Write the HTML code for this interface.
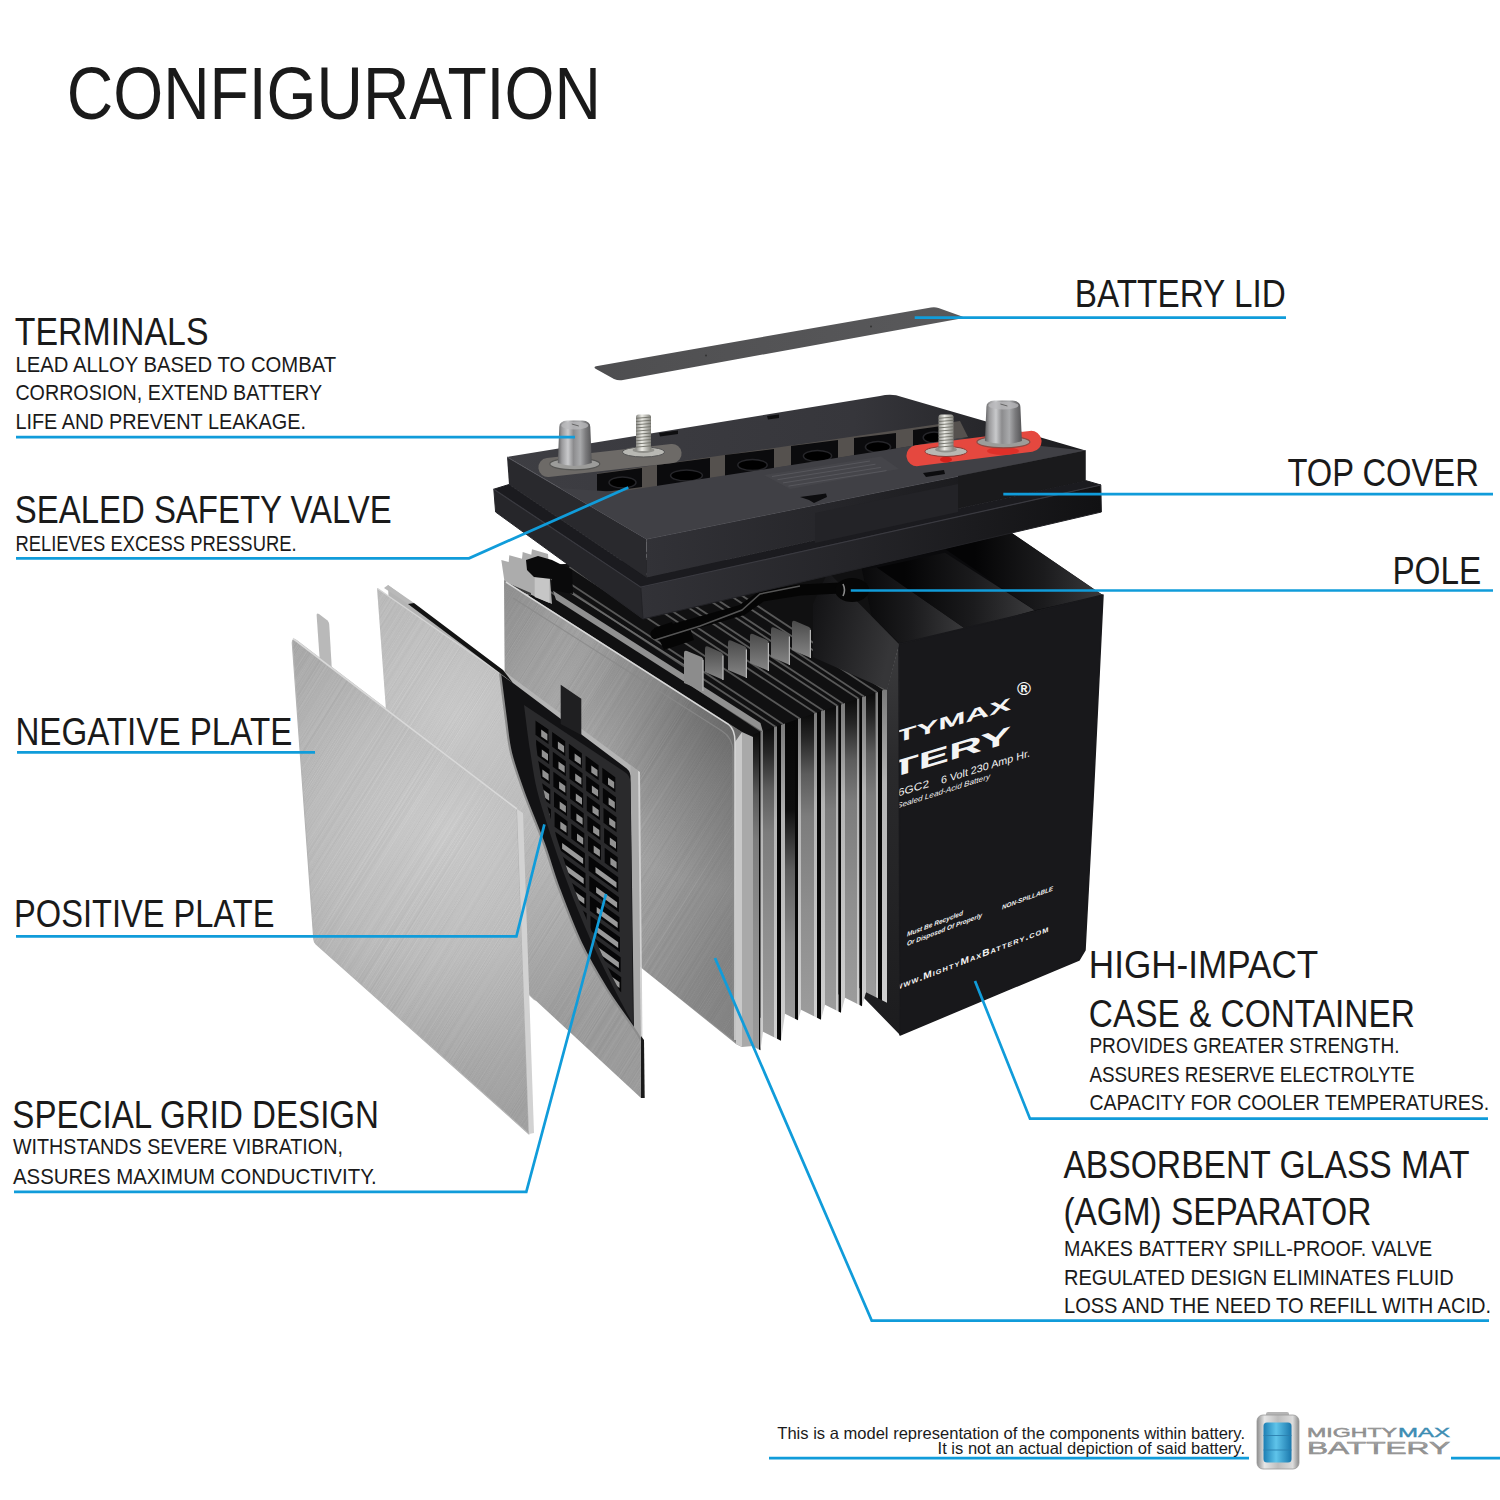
<!DOCTYPE html>
<html lang="en"><head><meta charset="utf-8"><title>Battery Configuration</title>
<style>
html,body{margin:0;padding:0;background:#fff;}
body{width:1500px;height:1500px;overflow:hidden;}
svg{display:block;font-family:'Liberation Sans', sans-serif;}
</style></head><body>
<svg width="1500" height="1500" viewBox="0 0 1500 1500">
<rect width="1500" height="1500" fill="#ffffff"/>
<defs>
<linearGradient id="gLid" x1="0" y1="0" x2="1" y2="0"><stop offset="0" stop-color="#4e4e50"/><stop offset="1" stop-color="#59595b"/></linearGradient>
<radialGradient id="gNeg" gradientUnits="userSpaceOnUse" cx="445" cy="830" r="290"><stop offset="0" stop-color="#cecece"/><stop offset="0.45" stop-color="#bebebe"/><stop offset="0.8" stop-color="#a9a9a9"/><stop offset="1" stop-color="#a0a0a0"/></radialGradient>
<radialGradient id="gPos" gradientUnits="userSpaceOnUse" cx="455" cy="715" r="330"><stop offset="0" stop-color="#cbcbcb"/><stop offset="0.4" stop-color="#bdbdbd"/><stop offset="1" stop-color="#9a9a9a"/></radialGradient>
<linearGradient id="gSep" x1="0" y1="0" x2="0.6" y2="1"><stop offset="0" stop-color="#8c8c8c"/><stop offset="0.22" stop-color="#a2a2a2"/><stop offset="0.45" stop-color="#adadad"/><stop offset="0.7" stop-color="#aaaaaa"/><stop offset="1" stop-color="#939393"/></linearGradient>
<linearGradient id="gSepR" gradientUnits="userSpaceOnUse" x1="590" y1="0" x2="742" y2="0"><stop offset="0" stop-color="#000" stop-opacity="0"/><stop offset="1" stop-color="#000" stop-opacity="0.13"/></linearGradient>
<radialGradient id="gSepD" gradientUnits="userSpaceOnUse" cx="745" cy="700" r="190"><stop offset="0" stop-color="#000" stop-opacity="0.34"/><stop offset="0.5" stop-color="#000" stop-opacity="0.16"/><stop offset="1" stop-color="#000" stop-opacity="0"/></radialGradient>
<linearGradient id="gFace" x1="0" y1="0" x2="0" y2="1"><stop offset="0" stop-color="#0a0a0a"/><stop offset="0.08" stop-color="#262626"/><stop offset="0.2" stop-color="#5c5c5c"/><stop offset="0.34" stop-color="#7c7c7c"/><stop offset="0.65" stop-color="#8e8e8e"/><stop offset="1" stop-color="#9c9c9c"/></linearGradient>
<linearGradient id="gFace2" x1="0" y1="0" x2="0" y2="1"><stop offset="0" stop-color="#060606"/><stop offset="0.3" stop-color="#0e0e0e"/><stop offset="0.5" stop-color="#5c5c5c"/><stop offset="0.75" stop-color="#888888"/><stop offset="1" stop-color="#9a9a9a"/></linearGradient>
<linearGradient id="gLine" x1="0" y1="0" x2="0" y2="1"><stop offset="0" stop-color="#7a7a7a"/><stop offset="0.3" stop-color="#b4b4b4"/><stop offset="1" stop-color="#d0d0d0"/></linearGradient>
<linearGradient id="gCaseL2" x1="0" y1="0" x2="1" y2="0.3"><stop offset="0" stop-color="#101012"/><stop offset="1" stop-color="#363638"/></linearGradient>
<linearGradient id="gCaseL" x1="0" y1="0" x2="0" y2="1"><stop offset="0" stop-color="#3c3c3e"/><stop offset="0.3" stop-color="#2a2a2c"/><stop offset="1" stop-color="#1c1c1e"/></linearGradient>
<linearGradient id="gCaseTop" x1="0" y1="0" x2="1" y2="0"><stop offset="0" stop-color="#050506"/><stop offset="0.5" stop-color="#19191b"/><stop offset="1" stop-color="#050506"/></linearGradient>
<linearGradient id="gCovR" x1="0" y1="0" x2="1" y2="0"><stop offset="0" stop-color="#323237"/><stop offset="0.45" stop-color="#252529"/><stop offset="1" stop-color="#111113"/></linearGradient>
<linearGradient id="gCovTop" x1="0" y1="0" x2="1" y2="0"><stop offset="0" stop-color="#3e3e43"/><stop offset="0.6" stop-color="#36363b"/><stop offset="1" stop-color="#1b1b1e"/></linearGradient>
<linearGradient id="gPost" x1="0" y1="0" x2="1" y2="0"><stop offset="0" stop-color="#5c5c5e"/><stop offset="0.12" stop-color="#9a9a9c"/><stop offset="0.3" stop-color="#c9cacc"/><stop offset="0.46" stop-color="#8c8c8e"/><stop offset="0.66" stop-color="#a9aaac"/><stop offset="0.82" stop-color="#7b7b7d"/><stop offset="1" stop-color="#545456"/></linearGradient>
<linearGradient id="gBolt" x1="0" y1="0" x2="1" y2="0"><stop offset="0" stop-color="#8a8a86"/><stop offset="0.4" stop-color="#ecece6"/><stop offset="1" stop-color="#85857f"/></linearGradient>
<linearGradient id="gTab" x1="0" y1="0" x2="0" y2="1"><stop offset="0" stop-color="#4a4a4a"/><stop offset="1" stop-color="#868686"/></linearGradient>
<filter id="fBrush" x="0" y="0" width="100%" height="100%" color-interpolation-filters="sRGB">
<feTurbulence type="fractalNoise" baseFrequency="0.004 0.55" numOctaves="2" seed="7" result="n"/>
<feColorMatrix in="n" type="matrix" values="0 0 0 0 0.45  0 0 0 0 0.45  0 0 0 0 0.45  1.6 0 0 0 -0.45"/>
</filter>
<filter id="fBrushL" x="0" y="0" width="100%" height="100%" color-interpolation-filters="sRGB">
<feTurbulence type="fractalNoise" baseFrequency="0.004 0.55" numOctaves="2" seed="3" result="n"/>
<feColorMatrix in="n" type="matrix" values="0 0 0 0 1  0 0 0 0 1  0 0 0 0 1  1.6 0 0 0 -0.45"/>
</filter>
</defs>
<g id="illustration">
<path d="M596,366.2 Q593,367.3 596,369 L614,379 Q618.5,381 623,380 L961,318.5 Q965,317.6 961.5,316.3 L938.5,308 Q935,306.8 931,307.5 Z" fill="url(#gLid)"/>
<circle cx="706" cy="355.5" r="1" fill="#333"/><circle cx="871" cy="326.5" r="1" fill="#333"/>
<polygon points="760.0,640.0 828.0,566.0 1011.0,532.5 1103.0,595.3 899.0,644.0 887.0,690.0" fill="#0a0a0c" />
<linearGradient id="gCs1" gradientUnits="userSpaceOnUse" x1="850" y1="0" x2="962" y2="0"><stop offset="0" stop-color="#040405"/><stop offset="0.55" stop-color="#1b1b1d"/><stop offset="1" stop-color="#38383a"/></linearGradient>
<polygon points="827.7,571.9 876.8,567.6 966.4,629.5 899.2,643.3" fill="url(#gCs1)" />
<linearGradient id="gCs2" gradientUnits="userSpaceOnUse" x1="905" y1="0" x2="1030" y2="0"><stop offset="0" stop-color="#040405"/><stop offset="0.55" stop-color="#1b1b1d"/><stop offset="1" stop-color="#38383a"/></linearGradient>
<polygon points="876.8,567.6 945.0,552.7 1034.7,610.3 966.4,629.5" fill="url(#gCs2)" />
<linearGradient id="gCs3" gradientUnits="userSpaceOnUse" x1="975" y1="0" x2="1100" y2="0"><stop offset="0" stop-color="#040405"/><stop offset="0.55" stop-color="#1b1b1d"/><stop offset="1" stop-color="#38383a"/></linearGradient>
<polygon points="945.0,549.0 1011.2,532.5 1103.0,595.3 1034.7,610.3" fill="url(#gCs3)" />
<polygon points="887.0,689.0 899.0,644.0 900.0,1035.0 864.0,998.0 864.0,700.0" fill="url(#gCaseL)" />
<polygon points="899.0,644.0 1103.0,595.0 1093.0,800.0 1085.0,950.0 1079.0,960.0 900.0,1035.0" fill="#18181b" stroke="#18181b" stroke-width="1.5" stroke-linejoin="round"/>
<polygon points="526.0,600.0 545.0,565.0 640.0,560.0 860.0,560.0 887.0,690.0 887.0,980.0 753.0,1020.0 745.0,735.0" fill="#101011" />
<line x1="761.8" y1="731.4" x2="531.8" y2="579.6" stroke="#585858" stroke-width="1.8"/>
<line x1="775.5" y1="726.7" x2="545.5" y2="574.9" stroke="#585858" stroke-width="1.8"/>
<line x1="783.0" y1="724.2" x2="553.0" y2="572.4" stroke="#585858" stroke-width="1.8"/>
<line x1="799.5" y1="718.6" x2="569.5" y2="566.8" stroke="#585858" stroke-width="1.8"/>
<line x1="815.5" y1="713.1" x2="585.5" y2="561.3" stroke="#585858" stroke-width="1.8"/>
<line x1="823.0" y1="710.6" x2="593.0" y2="558.8" stroke="#585858" stroke-width="1.8"/>
<line x1="837.2" y1="705.7" x2="607.2" y2="553.9" stroke="#585858" stroke-width="1.8"/>
<line x1="843.0" y1="703.8" x2="613.0" y2="552.0" stroke="#585858" stroke-width="1.8"/>
<line x1="858.2" y1="698.6" x2="628.2" y2="546.8" stroke="#585858" stroke-width="1.8"/>
<line x1="864.0" y1="696.6" x2="634.0" y2="544.8" stroke="#585858" stroke-width="1.8"/>
<line x1="876.8" y1="692.3" x2="646.8" y2="540.5" stroke="#585858" stroke-width="1.8"/>
<line x1="884.5" y1="689.7" x2="654.5" y2="537.9" stroke="#585858" stroke-width="1.8"/>
<polygon points="753.0,734.4 759.0,732.3 759.0,1049.5 753.0,1046.5" fill="url(#gFace)" />
<polygon points="759.0,732.3 760.5,731.8 760.5,1050.2 759.0,1049.5" fill="#070707" />
<polygon points="760.5,731.8 763.0,731.0 763.0,1031.8 760.5,1050.2" fill="url(#gLine)" />
<polygon points="763.0,731.0 774.0,727.2 774.0,1037.2 763.0,1031.8" fill="url(#gFace)" />
<polygon points="774.0,727.2 777.0,726.2 777.0,1038.8 774.0,1037.2" fill="url(#gLine)" />
<polygon points="777.0,726.2 781.0,724.9 781.0,1040.8 777.0,1038.8" fill="#070707" />
<polygon points="781.0,724.9 785.0,723.5 785.0,1013.8 781.0,1040.8" fill="url(#gLine)" />
<polygon points="785.0,723.5 795.0,720.1 795.0,1018.8 785.0,1013.8" fill="url(#gFace2)" />
<polygon points="795.0,720.1 798.0,719.1 798.0,1020.2 795.0,1018.8" fill="#070707" />
<polygon points="798.0,719.1 801.0,718.1 801.0,1009.8 798.0,1020.2" fill="url(#gLine)" />
<polygon points="801.0,718.1 814.0,713.6 814.0,1016.2 801.0,1009.8" fill="url(#gFace)" />
<polygon points="814.0,713.6 817.0,712.6 817.0,1017.8 814.0,1016.2" fill="url(#gLine)" />
<polygon points="817.0,712.6 821.0,711.3 821.0,1019.8 817.0,1017.8" fill="#070707" />
<polygon points="821.0,711.3 825.0,709.9 825.0,1004.8 821.0,1019.8" fill="url(#gLine)" />
<polygon points="825.0,709.9 836.0,706.2 836.0,1010.2 825.0,1004.8" fill="url(#gFace)" />
<polygon points="836.0,706.2 838.5,705.3 838.5,1011.5 836.0,1010.2" fill="url(#gLine)" />
<polygon points="838.5,705.3 841.0,704.5 841.0,1012.8 838.5,1011.5" fill="#070707" />
<polygon points="841.0,704.5 845.0,703.1 845.0,997.8 841.0,1012.8" fill="url(#gLine)" />
<polygon points="845.0,703.1 857.0,699.0 857.0,1003.8 845.0,997.8" fill="url(#gFace)" />
<polygon points="857.0,699.0 859.5,698.2 859.5,1005.0 857.0,1003.8" fill="url(#gLine)" />
<polygon points="859.5,698.2 862.0,697.3 862.0,1006.2 859.5,1005.0" fill="#070707" />
<polygon points="862.0,697.3 866.0,696.0 866.0,992.2 862.0,1006.2" fill="url(#gLine)" />
<polygon points="866.0,696.0 875.5,692.7 875.5,997.0 866.0,992.2" fill="url(#gFace)" />
<polygon points="875.5,692.7 878.0,691.9 878.0,998.2 875.5,997.0" fill="url(#gLine)" />
<polygon points="878.0,691.9 882.0,690.5 882.0,1000.2 878.0,998.2" fill="#070707" />
<polygon points="882.0,690.5 887.0,688.8 887.0,1002.8 882.0,1000.2" fill="url(#gLine)" />
<polygon points="553.0,590.8 760.5,722.9 763.0,732.0 556.0,599.7" fill="#909090" />
<line x1="553" y1="581.3" x2="700" y2="675.2" stroke="#6a6a6a" stroke-width="1.5"/>
<path d="M684,653 Q684,650 687,651 L701.5,657 Q703.5,658 703.5,660.5 L703.5,691 L684,683 Z" fill="#8c8c8c"/>
<line x1="702.9" y1="660" x2="702.9" y2="691" stroke="#b4b4b4" stroke-width="1.2"/>
<path d="M705,648.5 Q705,645.5 708,646.5 L721.5,652.5 Q723.5,653.5 723.5,656.0 L723.5,680 L705,672 Z" fill="url(#gTab)"/>
<line x1="722.9" y1="655.5" x2="722.9" y2="680" stroke="#b4b4b4" stroke-width="1.2"/>
<path d="M728,642.5 Q728,639.5 731,640.5 L745,646.5 Q747,647.5 747,650.0 L747,678 L728,670 Z" fill="url(#gTab)"/>
<line x1="746.4" y1="649.5" x2="746.4" y2="678" stroke="#b4b4b4" stroke-width="1.2"/>
<path d="M750,636 Q750,633 753,634 L767,640 Q769,641 769,643.5 L769,671 L750,663 Z" fill="url(#gTab)"/>
<line x1="768.4" y1="643" x2="768.4" y2="671" stroke="#b4b4b4" stroke-width="1.2"/>
<path d="M771,629.5 Q771,626.5 774,627.5 L788,633.5 Q790,634.5 790,637.0 L790,665 L771,657 Z" fill="url(#gTab)"/>
<line x1="789.4" y1="636.5" x2="789.4" y2="665" stroke="#b4b4b4" stroke-width="1.2"/>
<path d="M792,623 Q792,620 795,621 L809,627 Q811,628 811,630.5 L811,658 L792,650 Z" fill="url(#gTab)"/>
<line x1="810.4" y1="630" x2="810.4" y2="658" stroke="#b4b4b4" stroke-width="1.2"/>
<polygon points="813.0,604.0 828.0,572.0 899.0,644.0 887.0,690.0 813.0,657.0" fill="url(#gCaseL2)" />
<polyline points="656,634 700,622 742,610 762,596 800,590 840,588" fill="none" stroke="#050505" stroke-width="11" stroke-linejoin="round" stroke-linecap="round"/>
<ellipse cx="852" cy="590" rx="17" ry="12" fill="#060606"/>
<path d="M843,584 q3,6 0,12" fill="none" stroke="#8a8a8a" stroke-width="1.6"/>
<polygon points="654.0,628.0 672.0,622.0 676.0,632.0 690.0,628.0 694.0,640.0 664.0,650.0" fill="#050505" />
<polyline points="655,640 700,626 742,610 760,594 800,586" fill="none" stroke="#555" stroke-width="1.5"/>
<polygon points="501.3,560.0 508.7,562.0 509.3,555.3 522.0,558.7 522.7,552.0 531.3,554.7 532.0,549.3 548.0,554.0 552.0,604.0 504.7,583.0" fill="#acacac" />
<polygon points="534.7,577.0 549.5,579.0 549.5,603.0 534.7,597.0" fill="#c6c6c6" />
<polygon points="526.0,560.0 538.0,556.0 552.0,560.0 572.0,570.0 573.0,594.0 552.0,590.0 552.0,579.0 534.0,577.0 527.0,570.0" fill="#0a0a0b" />
<polygon points="510.0,584.0 531.0,593.0 531.0,596.0 510.0,587.0" fill="#3a3a3a" />
<polygon points="504.0,580.0 742.0,732.0 742.0,1047.0 736.0,1044.0 644.0,970.0 560.0,900.0 506.0,860.0" fill="url(#gSep)" />
<clipPath id="cpB1"><polygon points="504.0,580.0 742.0,732.0 742.0,1047.0 644.0,970.0 506.0,860.0"/></clipPath>
<g clip-path="url(#cpB1)" opacity="0.16"><g transform="skewY(-57.99)"><rect x="502" y="1381" width="242" height="858" filter="url(#fBrush)"/></g></g>
<clipPath id="cpB2"><polygon points="504.0,580.0 742.0,732.0 742.0,1047.0 644.0,970.0 506.0,860.0"/></clipPath>
<g clip-path="url(#cpB2)" opacity="0.12"><g transform="skewY(-57.99)"><rect x="502" y="1381" width="242" height="858" filter="url(#fBrushL)"/></g></g>
<polygon points="504.0,580.0 742.0,732.0 742.0,1047.0 644.0,970.0 506.0,860.0" fill="url(#gSepD)" />
<polygon points="504.0,580.0 742.0,732.0 742.0,1047.0 644.0,970.0 506.0,860.0" fill="url(#gSepR)" />
<path d="M513,598 L722,731 Q733,738 733,752 L733,1036" fill="none" stroke="#8a8a8a" stroke-width="1.2" opacity="0.8"/>
<polygon points="735.0,742.0 742.0,732.0 742.0,1047.0 736.0,1044.0" fill="#c9c9c9" />
<path d="M506,582 L728,724 Q735,729 735,742 L735,1040" fill="none" stroke="#d8d8d8" stroke-width="1.5"/>
<polygon points="742.0,732.0 753.0,737.0 753.0,1046.0 742.0,1047.0" fill="#a9a9a9" />
<polygon points="509.0,484.5 646.5,577.5 1085.5,480.5 1100.8,485.0 640.8,587.2 493.8,489.2" fill="#1b1b1f" stroke="#1b1b1f" stroke-width="1" stroke-linejoin="round"/>
<polygon points="493.8,489.2 640.8,587.2 643.0,619.0 495.6,512.0" fill="#26262a" stroke="#26262a" stroke-width="1" stroke-linejoin="round"/>
<polygon points="640.8,587.2 1100.8,485.0 1101.4,512.0 643.0,619.0" fill="url(#gCovR)" stroke="#222226" stroke-width="1" stroke-linejoin="round"/>
<polyline points="493.8,489.2 640.8,587.2 1100.8,485" fill="none" stroke="#3a3a40" stroke-width="1.2"/>
<polygon points="507.0,457.0 646.5,539.0 646.5,577.5 509.0,484.5" fill="#29292d" />
<polygon points="646.5,539.0 1085.5,450.5 1085.5,480.5 646.5,577.5" fill="url(#gCovR)" />
<path d="M507,457 L880,396 Q892,393 902,397 L1085.5,450.5 L646.5,539 Z" fill="url(#gCovTop)"/>
<polyline points="507,457 646.5,539 1085.5,450.5" fill="none" stroke="#55555b" stroke-width="1"/>
<polygon points="597.0,473.5 960.0,421.0 968.0,437.0 597.0,496.5" fill="#55514e" />
<polygon points="597.0,474.0 642.0,468.0 642.0,487.0 597.0,493.0" fill="#0b0b0d" />
<polygon points="657.0,465.0 710.0,458.0 710.0,482.0 657.0,489.0" fill="#0b0b0d" />
<polygon points="725.0,455.0 774.0,449.0 774.0,471.0 725.0,477.0" fill="#0b0b0d" />
<polygon points="791.0,446.0 838.0,440.0 838.0,462.0 791.0,468.0" fill="#0b0b0d" />
<polygon points="854.0,438.0 896.0,433.0 896.0,452.0 854.0,457.0" fill="#0b0b0d" />
<polygon points="913.0,430.0 949.0,425.0 949.0,441.0 913.0,446.0" fill="#0b0b0d" />
<ellipse cx="622.5" cy="482.5" rx="13.5" ry="5.5" fill="#000" stroke="#26262a" stroke-width="1.5"/>
<ellipse cx="686.5" cy="475.5" rx="15.9" ry="5.5" fill="#000" stroke="#26262a" stroke-width="1.5"/>
<ellipse cx="752.5" cy="465.0" rx="14.7" ry="5.5" fill="#000" stroke="#26262a" stroke-width="1.5"/>
<ellipse cx="817.5" cy="456.0" rx="14.1" ry="5.5" fill="#000" stroke="#26262a" stroke-width="1.5"/>
<ellipse cx="878.0" cy="447.0" rx="12.6" ry="5.5" fill="#000" stroke="#26262a" stroke-width="1.5"/>
<ellipse cx="934.0" cy="437.5" rx="10.8" ry="5.5" fill="#000" stroke="#26262a" stroke-width="1.5"/>
<polygon points="617.0,492.0 760.0,470.0 905.0,447.0 960.0,438.0 1085.5,450.5 646.5,539.0 560.0,488.0" fill="#404045" />
<polygon points="764.0,475.0 881.0,456.5 899.0,469.0 790.0,489.0" fill="#45454a" />
<line x1="772.0" y1="476.5" x2="870.0" y2="461.0" stroke="#6a6a70" stroke-width="0.7" opacity="0.7"/>
<line x1="777.5" y1="479.7" x2="875.5" y2="464.2" stroke="#6a6a70" stroke-width="0.7" opacity="0.7"/>
<line x1="783.0" y1="482.9" x2="881.0" y2="467.4" stroke="#6a6a70" stroke-width="0.7" opacity="0.7"/>
<line x1="788.5" y1="486.1" x2="886.5" y2="470.6" stroke="#6a6a70" stroke-width="0.7" opacity="0.7"/>
<polygon points="800.0,497.0 826.0,493.5 827.0,497.0 814.0,503.0 809.0,500.0" fill="#0c0c0e" />
<polygon points="923.0,473.0 944.0,470.0 945.0,474.0 926.0,477.0" fill="#0c0c0e" />
<polygon points="659.0,433.0 678.0,430.5 678.0,434.0 660.0,436.5" fill="#0e0e10" />
<polygon points="767.0,416.0 779.0,414.5 779.0,418.0 768.0,419.5" fill="#0e0e10" />
<polygon points="815.0,513.0 958.0,484.0 958.0,512.0 815.0,543.0" fill="#232327" />
<polygon points="958.0,476.0 1085.5,450.5 1085.5,480.5 958.0,508.0" fill="#1a1a1c" />
<g transform="rotate(-6.4 610 460.5)"><rect x="538" y="451" width="144" height="19" rx="9.5" fill="#6d6a67"/></g>
<ellipse cx="574.8" cy="464" rx="25.0" ry="5.8" fill="#9c9c9a" stroke="#555553" stroke-width="1.2"/>
<path d="M557.8,463 L559.3,427 Q559.3,421 567.3,420.5 L582.3,420.5 Q590.3,421 590.3,427 L591.8,463 Q574.8,469 557.8,463 Z" fill="url(#gPost)"/>
<ellipse cx="574.8" cy="425.5" rx="13.5" ry="4" fill="#b9babc" opacity="0.75"/>
<path d="M571.8,424 l7,2" stroke="#666" stroke-width="1" fill="none"/>
<ellipse cx="643.5" cy="452" rx="21" ry="5" fill="#b8b8b3" stroke="#555" stroke-width="1"/>
<ellipse cx="643.5" cy="450" rx="11" ry="3" fill="#8f8f8a"/>
<rect x="636.0" y="414.5" width="15" height="36.5" rx="2.5" fill="url(#gBolt)"/>
<line x1="636.0" y1="418.3" x2="651.0" y2="417.1" stroke="#6e6e66" stroke-width="0.9"/>
<line x1="636.0" y1="421.5" x2="651.0" y2="420.3" stroke="#6e6e66" stroke-width="0.9"/>
<line x1="636.0" y1="424.7" x2="651.0" y2="423.5" stroke="#6e6e66" stroke-width="0.9"/>
<line x1="636.0" y1="427.9" x2="651.0" y2="426.7" stroke="#6e6e66" stroke-width="0.9"/>
<line x1="636.0" y1="431.1" x2="651.0" y2="429.9" stroke="#6e6e66" stroke-width="0.9"/>
<line x1="636.0" y1="434.3" x2="651.0" y2="433.1" stroke="#6e6e66" stroke-width="0.9"/>
<line x1="636.0" y1="437.5" x2="651.0" y2="436.3" stroke="#6e6e66" stroke-width="0.9"/>
<line x1="636.0" y1="440.7" x2="651.0" y2="439.5" stroke="#6e6e66" stroke-width="0.9"/>
<line x1="636.0" y1="443.9" x2="651.0" y2="442.7" stroke="#6e6e66" stroke-width="0.9"/>
<line x1="636.0" y1="447.1" x2="651.0" y2="445.9" stroke="#6e6e66" stroke-width="0.9"/>
<g transform="rotate(-7.2 974 448.5)"><rect x="906" y="438" width="136" height="21" rx="10.5" fill="#e5483f"/></g>
<ellipse cx="946" cy="459.5" rx="6" ry="3" fill="#d4201b"/><ellipse cx="1003" cy="451" rx="16" ry="4" fill="#dc2a24" opacity="0.8"/>
<ellipse cx="946" cy="451.5" rx="21" ry="5" fill="#b8b8b3" stroke="#8a3a34" stroke-width="1"/>
<ellipse cx="946" cy="449.5" rx="11" ry="3" fill="#8f8f8a"/>
<rect x="938.5" y="414.5" width="15" height="36.0" rx="2.5" fill="url(#gBolt)"/>
<line x1="938.5" y1="418.3" x2="953.5" y2="417.1" stroke="#6e6e66" stroke-width="0.9"/>
<line x1="938.5" y1="421.5" x2="953.5" y2="420.3" stroke="#6e6e66" stroke-width="0.9"/>
<line x1="938.5" y1="424.7" x2="953.5" y2="423.5" stroke="#6e6e66" stroke-width="0.9"/>
<line x1="938.5" y1="427.9" x2="953.5" y2="426.7" stroke="#6e6e66" stroke-width="0.9"/>
<line x1="938.5" y1="431.1" x2="953.5" y2="429.9" stroke="#6e6e66" stroke-width="0.9"/>
<line x1="938.5" y1="434.3" x2="953.5" y2="433.1" stroke="#6e6e66" stroke-width="0.9"/>
<line x1="938.5" y1="437.5" x2="953.5" y2="436.3" stroke="#6e6e66" stroke-width="0.9"/>
<line x1="938.5" y1="440.7" x2="953.5" y2="439.5" stroke="#6e6e66" stroke-width="0.9"/>
<line x1="938.5" y1="443.9" x2="953.5" y2="442.7" stroke="#6e6e66" stroke-width="0.9"/>
<line x1="938.5" y1="447.1" x2="953.5" y2="445.9" stroke="#6e6e66" stroke-width="0.9"/>
<ellipse cx="1003.4" cy="442" rx="26.5" ry="5.8" fill="#9c9c9a" stroke="#8a4a44" stroke-width="1.2"/>
<path d="M984.9,441 L986.4,407 Q986.4,401 994.4,400.5 L1012.4,400.5 Q1020.4,401 1020.4,407 L1021.9,441 Q1003.4,447 984.9,441 Z" fill="url(#gPost)"/>
<ellipse cx="1003.4" cy="405.5" rx="15.0" ry="4" fill="#b9babc" opacity="0.75"/>
<path d="M1000.4,404 l7,2" stroke="#666" stroke-width="1" fill="none"/>
<polygon points="388.0,585.0 638.0,770.7 641.0,1040.0 534.0,1000.0 400.0,872.0" fill="#b4b4b4" />
<polygon points="630.5,765.0 638.0,770.7 641.0,1040.0 633.5,1030.0" fill="#a9a9a9" />
<polygon points="638.0,770.7 640.0,772.0 642.5,1040.0 641.0,1040.0" fill="#d2d2d2" />
<path d="M500,673 C501.0,680.8 504.2,706.7 506.0,720.0 C507.8,733.3 508.0,740.8 511.0,753.0 C514.0,765.2 518.5,777.8 524.0,793.0 C529.5,808.2 538.2,828.2 544.0,844.0 C549.8,859.8 552.4,871.1 558.6,887.6 C564.8,904.1 573.0,926.1 581.0,943.0 C589.0,959.9 597.8,974.6 606.7,989.0 C615.6,1003.4 628.9,1021.0 634.6,1029.5 C640.3,1038.0 639.9,1038.2 641.0,1040.0 L634,1030 L630.5,776 Q630,770 624,766.5 L513,683 L503,676 Z" fill="#121214"/>
<path d="M524,705 L624,771.5 Q630.5,775.5 630.5,783 L633,1024 C630.8,1020.0 625.5,1010.7 620.0,1000.0 C614.5,989.3 606.7,974.2 600.0,960.0 C593.3,945.8 586.3,930.3 580.0,915.0 C573.7,899.7 567.2,882.2 562.0,868.0 C556.8,853.8 553.2,843.0 549.0,830.0 C544.8,817.0 540.2,803.3 537.0,790.0 C533.8,776.7 532.2,764.2 530.0,750.0 C527.8,735.8 525.0,712.5 524.0,705.0 Z" fill="#2a2a2c"/>
<clipPath id="cpGrid"><path d="M533,719 L617,775 Q622.5,778.5 622.5,786 L624.5,1000 C622.1,995.3 615.4,983.3 610.0,972.0 C604.6,960.7 598.0,946.0 592.0,932.0 C586.0,918.0 579.3,902.0 574.0,888.0 C568.7,874.0 564.5,861.8 560.0,848.0 C555.5,834.2 550.5,818.8 547.0,805.0 C543.5,791.2 541.3,779.3 539.0,765.0 C536.7,750.7 534.0,726.7 533.0,719.0 Z"/></clipPath>
<g clip-path="url(#cpGrid)">
<polygon points="535.5,719.8 548.5,729.2 548.5,744.2 535.5,734.8" fill="#060607" />
<polygon points="541.2,729.6 547.4,734.0 547.4,740.8 541.2,736.4" fill="#929292" />
<polygon points="552.2,731.8 565.2,741.2 565.2,756.2 552.2,746.8" fill="#060607" />
<polygon points="557.9,741.6 564.1,746.0 564.1,752.8 557.9,748.4" fill="#929292" />
<polygon points="568.9,743.8 581.9,753.2 581.9,768.2 568.9,758.8" fill="#060607" />
<polygon points="574.6,753.6 580.8,758.0 580.8,764.8 574.6,760.4" fill="#929292" />
<polygon points="585.6,755.8 598.6,765.2 598.6,780.2 585.6,770.8" fill="#060607" />
<polygon points="591.3,765.6 597.5,770.0 597.5,776.8 591.3,772.4" fill="#929292" />
<polygon points="602.3,767.8 615.3,777.2 615.3,792.2 602.3,782.8" fill="#060607" />
<polygon points="608.0,777.6 614.2,782.0 614.2,788.8 608.0,784.4" fill="#929292" />
<polygon points="536.1,739.8 549.1,749.2 549.1,764.2 536.1,754.8" fill="#060607" />
<polygon points="541.8,749.6 548.0,754.0 548.0,760.8 541.8,756.4" fill="#929292" />
<polygon points="552.8,751.8 565.8,761.2 565.8,776.2 552.8,766.8" fill="#060607" />
<polygon points="558.5,761.6 564.7,766.0 564.7,772.8 558.5,768.4" fill="#929292" />
<polygon points="569.5,763.8 582.5,773.2 582.5,788.2 569.5,778.8" fill="#060607" />
<polygon points="575.2,773.6 581.4,778.0 581.4,784.8 575.2,780.4" fill="#929292" />
<polygon points="586.2,775.8 599.2,785.2 599.2,800.2 586.2,790.8" fill="#060607" />
<polygon points="591.9,785.6 598.1,790.0 598.1,796.8 591.9,792.4" fill="#929292" />
<polygon points="602.9,787.8 615.9,797.2 615.9,812.2 602.9,802.8" fill="#060607" />
<polygon points="608.6,797.6 614.8,802.0 614.8,808.8 608.6,804.4" fill="#929292" />
<polygon points="536.7,759.8 549.7,769.2 549.7,784.2 536.7,774.8" fill="#060607" />
<polygon points="542.4,769.6 548.6,774.0 548.6,780.8 542.4,776.4" fill="#929292" />
<polygon points="553.4,771.8 566.4,781.2 566.4,796.2 553.4,786.8" fill="#060607" />
<polygon points="559.1,781.6 565.3,786.0 565.3,792.8 559.1,788.4" fill="#929292" />
<polygon points="570.1,783.8 583.1,793.2 583.1,808.2 570.1,798.8" fill="#060607" />
<polygon points="575.8,793.6 582.0,798.0 582.0,804.8 575.8,800.4" fill="#929292" />
<polygon points="586.8,795.8 599.8,805.2 599.8,820.2 586.8,810.8" fill="#060607" />
<polygon points="592.5,805.6 598.7,810.0 598.7,816.8 592.5,812.4" fill="#929292" />
<polygon points="603.5,807.8 616.5,817.2 616.5,832.2 603.5,822.8" fill="#060607" />
<polygon points="609.2,817.6 615.4,822.0 615.4,828.8 609.2,824.4" fill="#929292" />
<polygon points="537.3,779.8 550.3,789.2 550.3,804.2 537.3,794.8" fill="#060607" />
<polygon points="543.0,789.6 549.2,794.0 549.2,800.8 543.0,796.4" fill="#929292" />
<polygon points="554.0,791.8 567.0,801.2 567.0,816.2 554.0,806.8" fill="#060607" />
<polygon points="559.7,801.6 565.9,806.0 565.9,812.8 559.7,808.4" fill="#929292" />
<polygon points="570.7,803.8 583.7,813.2 583.7,828.2 570.7,818.8" fill="#060607" />
<polygon points="576.4,813.6 582.6,818.0 582.6,824.8 576.4,820.4" fill="#929292" />
<polygon points="587.4,815.8 600.4,825.2 600.4,840.2 587.4,830.8" fill="#060607" />
<polygon points="593.1,825.6 599.3,830.0 599.3,836.8 593.1,832.4" fill="#929292" />
<polygon points="604.1,827.8 617.1,837.2 617.1,852.2 604.1,842.8" fill="#060607" />
<polygon points="609.8,837.6 616.0,842.0 616.0,848.8 609.8,844.4" fill="#929292" />
<polygon points="537.9,799.8 550.9,809.2 550.9,824.2 537.9,814.8" fill="#060607" />
<polygon points="543.6,809.6 549.8,814.0 549.8,820.8 543.6,816.4" fill="#929292" />
<polygon points="554.6,811.8 567.6,821.2 567.6,836.2 554.6,826.8" fill="#060607" />
<polygon points="560.3,821.6 566.5,826.0 566.5,832.8 560.3,828.4" fill="#929292" />
<polygon points="571.3,823.8 584.3,833.2 584.3,848.2 571.3,838.8" fill="#060607" />
<polygon points="577.0,833.6 583.2,838.0 583.2,844.8 577.0,840.4" fill="#929292" />
<polygon points="588.0,835.8 601.0,845.2 601.0,860.2 588.0,850.8" fill="#060607" />
<polygon points="593.7,845.6 599.9,850.0 599.9,856.8 593.7,852.4" fill="#929292" />
<polygon points="604.7,847.8 617.7,857.2 617.7,872.2 604.7,862.8" fill="#060607" />
<polygon points="610.4,857.6 616.6,862.0 616.6,868.8 610.4,864.4" fill="#929292" />
<polygon points="538.5,819.8 551.5,829.2 551.5,844.2 538.5,834.8" fill="#060607" />
<polygon points="555.3,831.8 584.9,853.2 584.9,868.2 555.3,846.8" fill="#060607" />
<polygon points="562.1,843.0 583.1,858.2 583.1,864.0 562.1,848.8" fill="#9a9a9a" />
<polygon points="588.7,855.8 618.2,877.2 618.2,892.2 588.7,870.8" fill="#060607" />
<polygon points="595.5,867.0 616.5,882.2 616.5,888.0 595.5,872.8" fill="#9a9a9a" />
<polygon points="539.1,839.8 552.1,849.2 552.1,864.2 539.1,854.8" fill="#060607" />
<polygon points="555.9,851.8 585.5,873.2 585.5,888.2 555.9,866.8" fill="#060607" />
<polygon points="562.7,863.0 583.7,878.2 583.7,884.0 562.7,868.8" fill="#9a9a9a" />
<polygon points="589.3,875.8 618.9,897.2 618.9,912.2 589.3,890.8" fill="#060607" />
<polygon points="596.1,887.0 617.1,902.2 617.1,908.0 596.1,892.8" fill="#9a9a9a" />
<polygon points="539.7,859.8 552.7,869.2 552.7,884.2 539.7,874.8" fill="#060607" />
<polygon points="556.5,871.8 586.1,893.2 586.1,908.2 556.5,886.8" fill="#060607" />
<polygon points="563.3,883.0 584.3,898.2 584.3,904.0 563.3,888.8" fill="#9a9a9a" />
<polygon points="589.9,895.8 619.5,917.2 619.5,932.2 589.9,910.8" fill="#060607" />
<polygon points="596.7,907.0 617.7,922.2 617.7,928.0 596.7,912.8" fill="#9a9a9a" />
<polygon points="540.3,879.8 553.3,889.2 553.3,904.2 540.3,894.8" fill="#060607" />
<polygon points="557.1,891.8 586.6,913.2 586.6,928.2 557.1,906.8" fill="#060607" />
<polygon points="563.9,903.0 584.9,918.2 584.9,924.0 563.9,908.8" fill="#9a9a9a" />
<polygon points="590.5,915.8 620.0,937.2 620.0,952.2 590.5,930.8" fill="#060607" />
<polygon points="597.2,927.0 618.2,942.2 618.2,948.0 597.2,932.8" fill="#9a9a9a" />
<polygon points="540.9,899.8 553.9,909.2 553.9,924.2 540.9,914.8" fill="#060607" />
<polygon points="557.7,911.8 587.2,933.2 587.2,948.2 557.7,926.8" fill="#060607" />
<polygon points="564.5,923.0 585.5,938.2 585.5,944.0 564.5,928.8" fill="#9a9a9a" />
<polygon points="591.1,935.8 620.6,957.2 620.6,972.2 591.1,950.8" fill="#060607" />
<polygon points="597.9,947.0 618.9,962.2 618.9,968.0 597.9,952.8" fill="#9a9a9a" />
<polygon points="541.5,919.8 554.5,929.2 554.5,944.2 541.5,934.8" fill="#060607" />
<polygon points="558.3,931.8 587.9,953.2 587.9,968.2 558.3,946.8" fill="#060607" />
<polygon points="565.1,943.0 586.1,958.2 586.1,964.0 565.1,948.8" fill="#9a9a9a" />
<polygon points="591.7,955.8 621.2,977.2 621.2,992.2 591.7,970.8" fill="#060607" />
<polygon points="598.5,967.0 619.5,982.2 619.5,988.0 598.5,972.8" fill="#9a9a9a" />
<polygon points="542.1,939.8 555.1,949.2 555.1,964.2 542.1,954.8" fill="#060607" />
<polygon points="558.9,951.8 588.5,973.2 588.5,988.2 558.9,966.8" fill="#060607" />
<polygon points="565.7,963.0 586.7,978.2 586.7,984.0 565.7,968.8" fill="#9a9a9a" />
<polygon points="592.3,975.8 621.9,997.2 621.9,1012.2 592.3,990.8" fill="#060607" />
<polygon points="599.1,987.0 620.1,1002.2 620.1,1008.0 599.1,992.8" fill="#9a9a9a" />
<polygon points="542.7,959.8 555.7,969.2 555.7,984.2 542.7,974.8" fill="#060607" />
<polygon points="559.5,971.8 589.1,993.2 589.1,1008.2 559.5,986.8" fill="#060607" />
<polygon points="566.3,983.0 587.3,998.2 587.3,1004.0 566.3,988.8" fill="#9a9a9a" />
<polygon points="592.9,995.8 622.5,1017.2 622.5,1032.2 592.9,1010.8" fill="#060607" />
<polygon points="599.7,1007.0 620.7,1022.2 620.7,1028.0 599.7,1012.8" fill="#9a9a9a" />
<polygon points="543.3,979.8 556.3,989.2 556.3,1004.2 543.3,994.8" fill="#060607" />
<polygon points="560.1,991.8 589.6,1013.2 589.6,1028.2 560.1,1006.8" fill="#060607" />
<polygon points="566.9,1003.0 587.9,1018.2 587.9,1024.0 566.9,1008.8" fill="#9a9a9a" />
<polygon points="593.5,1015.8 623.0,1037.2 623.0,1052.2 593.5,1030.8" fill="#060607" />
<polygon points="600.2,1027.0 621.2,1042.2 621.2,1048.0 600.2,1032.8" fill="#9a9a9a" />
<polygon points="543.9,999.8 556.9,1009.2 556.9,1024.2 543.9,1014.8" fill="#060607" />
<polygon points="560.7,1011.8 590.2,1033.2 590.2,1048.2 560.7,1026.8" fill="#060607" />
<polygon points="567.5,1023.0 588.5,1038.2 588.5,1044.0 567.5,1028.8" fill="#9a9a9a" />
<polygon points="594.1,1035.8 623.6,1057.2 623.6,1072.2 594.1,1050.8" fill="#060607" />
<polygon points="600.9,1047.0 621.9,1062.2 621.9,1068.0 600.9,1052.8" fill="#9a9a9a" />
<polygon points="544.5,1019.8 557.5,1029.2 557.5,1044.2 544.5,1034.8" fill="#060607" />
<polygon points="561.3,1031.8 590.9,1053.2 590.9,1068.2 561.3,1046.8" fill="#060607" />
<polygon points="568.1,1043.0 589.1,1058.2 589.1,1064.0 568.1,1048.8" fill="#9a9a9a" />
<polygon points="594.7,1055.8 624.2,1077.2 624.2,1092.2 594.7,1070.8" fill="#060607" />
<polygon points="601.5,1067.0 622.5,1082.2 622.5,1088.0 601.5,1072.8" fill="#9a9a9a" />
</g>
<polygon points="560.7,684.7 581.3,698.7 581.3,735.0 560.7,724.0" fill="#1f1f21" />
<path d="M377,588 L500,673 C501.0,680.8 504.2,706.7 506.0,720.0 C507.8,733.3 508.0,740.8 511.0,753.0 C514.0,765.2 518.5,777.8 524.0,793.0 C529.5,808.2 538.2,828.2 544.0,844.0 C549.8,859.8 552.4,871.1 558.6,887.6 C564.8,904.1 573.0,926.1 581.0,943.0 C589.0,959.9 597.8,974.6 606.7,989.0 C615.6,1003.4 628.9,1021.0 634.6,1029.5 C640.3,1038.0 639.9,1038.2 641.0,1040.0 L641,1098 L398,873 Z" fill="url(#gPos)"/>
<clipPath id="cpB3"><path d="M377,588 L500,673 C501.0,680.8 504.2,706.7 506.0,720.0 C507.8,733.3 508.0,740.8 511.0,753.0 C514.0,765.2 518.5,777.8 524.0,793.0 C529.5,808.2 538.2,828.2 544.0,844.0 C549.8,859.8 552.4,871.1 558.6,887.6 C564.8,904.1 573.0,926.1 581.0,943.0 C589.0,959.9 597.8,974.6 606.7,989.0 C615.6,1003.4 628.9,1021.0 634.6,1029.5 C640.3,1038.0 639.9,1038.2 641.0,1040.0 L641,1098 L398,873 Z"/></clipPath>
<g clip-path="url(#cpB3)" opacity="0.15"><g transform="skewY(-57.99)"><rect x="375" y="1186" width="268" height="943" filter="url(#fBrush)"/></g></g>
<clipPath id="cpB4"><path d="M377,588 L500,673 C501.0,680.8 504.2,706.7 506.0,720.0 C507.8,733.3 508.0,740.8 511.0,753.0 C514.0,765.2 518.5,777.8 524.0,793.0 C529.5,808.2 538.2,828.2 544.0,844.0 C549.8,859.8 552.4,871.1 558.6,887.6 C564.8,904.1 573.0,926.1 581.0,943.0 C589.0,959.9 597.8,974.6 606.7,989.0 C615.6,1003.4 628.9,1021.0 634.6,1029.5 C640.3,1038.0 639.9,1038.2 641.0,1040.0 L641,1098 L398,873 Z"/></clipPath>
<g clip-path="url(#cpB4)" opacity="0.12"><g transform="skewY(-57.99)"><rect x="375" y="1186" width="268" height="943" filter="url(#fBrushL)"/></g></g>
<path d="M500,673 C501.0,680.8 504.2,706.7 506.0,720.0 C507.8,733.3 508.0,740.8 511.0,753.0 C514.0,765.2 518.5,777.8 524.0,793.0 C529.5,808.2 538.2,828.2 544.0,844.0 C549.8,859.8 552.4,871.1 558.6,887.6 C564.8,904.1 573.0,926.1 581.0,943.0 C589.0,959.9 597.8,974.6 606.7,989.0 C615.6,1003.4 628.9,1021.0 634.6,1029.5 C640.3,1038.0 639.9,1038.2 641.0,1040.0" fill="none" stroke="#8c8c8c" stroke-width="2.2"/>
<path d="M377.5,588.5 L500,673" fill="none" stroke="#d4d4d4" stroke-width="1.4"/>
<polygon points="388.0,585.0 414.0,603.0 408.0,604.0 384.0,588.0" fill="#b9b9b9" />
<polygon points="408.0,604.0 414.0,603.0 503.0,670.0 513.0,683.0 500.0,673.0" fill="#131313" />
<polygon points="641.0,1036.0 644.0,1040.0 644.7,1098.0 641.0,1098.0" fill="#1a1a1a" />
<path d="M316.6,615 Q316.6,612.5 319,614 L327.5,620.5 Q329,622 329.2,624 L332,672 L320,664 Z" fill="#b9b9b9"/>
<path d="M292.3,643 Q292.2,637.5 297,641 L517,809 L529,1134 L316,944 Q314,942 313.8,939 Z" fill="url(#gNeg)" stroke="#b4b4b4" stroke-width="1.2" stroke-linejoin="round"/>
<clipPath id="cpB5"><polygon points="292.4,638.0 517.0,809.0 529.0,1134.0 314.0,942.0"/></clipPath>
<g clip-path="url(#cpB5)" opacity="0.16"><g transform="skewY(-57.99)"><rect x="290" y="1101" width="241" height="885" filter="url(#fBrush)"/></g></g>
<clipPath id="cpB6"><polygon points="292.4,638.0 517.0,809.0 529.0,1134.0 314.0,942.0"/></clipPath>
<g clip-path="url(#cpB6)" opacity="0.12"><g transform="skewY(-57.99)"><rect x="290" y="1101" width="241" height="885" filter="url(#fBrushL)"/></g></g>
<polygon points="517.0,809.0 523.0,813.0 534.0,1133.0 529.0,1134.0" fill="#d2d2d2" />
<polyline points="293,638.5 517,809" fill="none" stroke="#d9d9d9" stroke-width="1.6"/>
</g>
<g id="leaders">
<polyline points="16.0,437.2 575.0,437.2" fill="none" stroke="#109cda" stroke-width="2.7" stroke-linejoin="miter"/>
<polyline points="16.0,558.3 469.0,558.3 628.3,487.5" fill="none" stroke="#109cda" stroke-width="2.7" stroke-linejoin="miter"/>
<polyline points="17.0,752.3 315.0,752.3" fill="none" stroke="#109cda" stroke-width="2.7" stroke-linejoin="miter"/>
<polyline points="16.0,936.3 516.4,936.3 544.4,824.3" fill="none" stroke="#109cda" stroke-width="2.7" stroke-linejoin="miter"/>
<polyline points="14.0,1191.8 526.3,1191.8 606.0,894.0" fill="none" stroke="#109cda" stroke-width="2.7" stroke-linejoin="miter"/>
<polyline points="914.7,317.6 1286.0,317.6" fill="none" stroke="#109cda" stroke-width="2.7" stroke-linejoin="miter"/>
<polyline points="1003.3,494.1 1493.0,494.1" fill="none" stroke="#109cda" stroke-width="2.7" stroke-linejoin="miter"/>
<polyline points="850.8,590.5 1493.0,590.5" fill="none" stroke="#109cda" stroke-width="2.7" stroke-linejoin="miter"/>
<polyline points="975.0,981.0 1030.0,1118.7 1488.0,1118.7" fill="none" stroke="#109cda" stroke-width="2.7" stroke-linejoin="miter"/>
<polyline points="715.0,958.0 871.7,1320.6 1489.0,1320.6" fill="none" stroke="#109cda" stroke-width="2.7" stroke-linejoin="miter"/>
<polyline points="769.0,1458.2 1249.0,1458.2" fill="none" stroke="#109cda" stroke-width="2.7" stroke-linejoin="miter"/>
<polyline points="1451.0,1458.2 1500.0,1458.2" fill="none" stroke="#109cda" stroke-width="2.7" stroke-linejoin="miter"/>
</g>
<g id="labels">
<text x="66.8" y="119.0" font-size="74" fill="#1a1a1a" text-anchor="start" textLength="534.0" lengthAdjust="spacingAndGlyphs" >CONFIGURATION</text>
<text x="14.8" y="345.0" font-size="38" fill="#1a1a1a" text-anchor="start" textLength="193.7" lengthAdjust="spacingAndGlyphs" >TERMINALS</text>
<text x="15.4" y="371.7" font-size="22.8" fill="#1a1a1a" text-anchor="start" textLength="320.8" lengthAdjust="spacingAndGlyphs" >LEAD ALLOY BASED TO COMBAT</text>
<text x="15.4" y="400.0" font-size="22.8" fill="#1a1a1a" text-anchor="start" textLength="306.7" lengthAdjust="spacingAndGlyphs" >CORROSION, EXTEND BATTERY</text>
<text x="15.4" y="428.7" font-size="22.8" fill="#1a1a1a" text-anchor="start" textLength="290.6" lengthAdjust="spacingAndGlyphs" >LIFE AND PREVENT LEAKAGE.</text>
<text x="14.8" y="522.7" font-size="38" fill="#1a1a1a" text-anchor="start" textLength="377.0" lengthAdjust="spacingAndGlyphs" >SEALED SAFETY VALVE</text>
<text x="15.4" y="550.7" font-size="22.8" fill="#1a1a1a" text-anchor="start" textLength="281.2" lengthAdjust="spacingAndGlyphs" >RELIEVES EXCESS PRESSURE.</text>
<text x="15.4" y="745.0" font-size="38" fill="#1a1a1a" text-anchor="start" textLength="276.9" lengthAdjust="spacingAndGlyphs" >NEGATIVE PLATE</text>
<text x="14.1" y="927.3" font-size="38" fill="#1a1a1a" text-anchor="start" textLength="260.3" lengthAdjust="spacingAndGlyphs" >POSITIVE PLATE</text>
<text x="12.3" y="1128.0" font-size="38" fill="#1a1a1a" text-anchor="start" textLength="366.7" lengthAdjust="spacingAndGlyphs" >SPECIAL GRID DESIGN</text>
<text x="12.9" y="1154.4" font-size="22.8" fill="#1a1a1a" text-anchor="start" textLength="330.0" lengthAdjust="spacingAndGlyphs" >WITHSTANDS SEVERE VIBRATION,</text>
<text x="12.9" y="1184.0" font-size="22.8" fill="#1a1a1a" text-anchor="start" textLength="363.9" lengthAdjust="spacingAndGlyphs" >ASSURES MAXIMUM CONDUCTIVITY.</text>
<text x="1074.8" y="307.3" font-size="38" fill="#1a1a1a" text-anchor="start" textLength="211.0" lengthAdjust="spacingAndGlyphs" >BATTERY LID</text>
<text x="1287.4" y="485.7" font-size="38" fill="#1a1a1a" text-anchor="start" textLength="191.4" lengthAdjust="spacingAndGlyphs" >TOP COVER</text>
<text x="1392.4" y="584.0" font-size="38" fill="#1a1a1a" text-anchor="start" textLength="88.9" lengthAdjust="spacingAndGlyphs" >POLE</text>
<text x="1088.8" y="978.3" font-size="38" fill="#1a1a1a" text-anchor="start" textLength="229.4" lengthAdjust="spacingAndGlyphs" >HIGH-IMPACT</text>
<text x="1088.8" y="1026.7" font-size="38" fill="#1a1a1a" text-anchor="start" textLength="326.1" lengthAdjust="spacingAndGlyphs" >CASE &amp; CONTAINER</text>
<text x="1089.4" y="1052.7" font-size="22.8" fill="#1a1a1a" text-anchor="start" textLength="310.1" lengthAdjust="spacingAndGlyphs" >PROVIDES GREATER STRENGTH.</text>
<text x="1089.4" y="1081.7" font-size="22.8" fill="#1a1a1a" text-anchor="start" textLength="325.2" lengthAdjust="spacingAndGlyphs" >ASSURES RESERVE ELECTROLYTE</text>
<text x="1089.4" y="1110.0" font-size="22.8" fill="#1a1a1a" text-anchor="start" textLength="399.8" lengthAdjust="spacingAndGlyphs" >CAPACITY FOR COOLER TEMPERATURES.</text>
<text x="1063.4" y="1177.7" font-size="38" fill="#1a1a1a" text-anchor="start" textLength="406.2" lengthAdjust="spacingAndGlyphs" >ABSORBENT GLASS MAT</text>
<text x="1063.4" y="1225.3" font-size="38" fill="#1a1a1a" text-anchor="start" textLength="307.9" lengthAdjust="spacingAndGlyphs" >(AGM) SEPARATOR</text>
<text x="1064.0" y="1255.6" font-size="22.8" fill="#1a1a1a" text-anchor="start" textLength="368.2" lengthAdjust="spacingAndGlyphs" >MAKES BATTERY SPILL-PROOF. VALVE</text>
<text x="1064.0" y="1285.0" font-size="22.8" fill="#1a1a1a" text-anchor="start" textLength="389.8" lengthAdjust="spacingAndGlyphs" >REGULATED DESIGN ELIMINATES FLUID</text>
<text x="1064.0" y="1313.3" font-size="22.8" fill="#1a1a1a" text-anchor="start" textLength="427.1" lengthAdjust="spacingAndGlyphs" >LOSS AND THE NEED TO REFILL WITH ACID.</text>
<text x="777.3" y="1438.5" font-size="16.5" fill="#1a1a1a" text-anchor="start" textLength="467.7" lengthAdjust="spacingAndGlyphs" >This is a model representation of the components within battery.</text>
<text x="937.6" y="1453.6" font-size="16.5" fill="#1a1a1a" text-anchor="start" textLength="307.4" lengthAdjust="spacingAndGlyphs" >It is not an actual depiction of said battery.</text>
</g>
<g id="caselabel">
<clipPath id="cpLabel"><polygon points="899,644 1103,594 1093,800 1085,950 1079,960 900,1035"/></clipPath>
<g clip-path="url(#cpLabel)">
<text transform="translate(811.0,767.5) skewY(-16.17) scale(1.0,1)" font-size="17" font-weight="bold" font-style="normal" fill="#f4f4f4" textLength="200.0" lengthAdjust="spacingAndGlyphs" >MIGHTYMAX</text>
<text transform="translate(800.0,805.5) skewY(-16.70) scale(1.0,1)" font-size="23" font-weight="bold" font-style="normal" fill="#f4f4f4" textLength="211.0" lengthAdjust="spacingAndGlyphs" >BATTERY</text>
<text transform="translate(898.0,796.5) skewY(-17.22) scale(1.0,1)" font-size="10.5" font-weight="normal" font-style="normal" fill="#f4f4f4" textLength="31.0" lengthAdjust="spacingAndGlyphs" >6GC2</text>
<text transform="translate(941.0,784.0) skewY(-17.22) scale(1.0,1)" font-size="10.5" font-weight="normal" font-style="normal" fill="#f4f4f4" textLength="89.0" lengthAdjust="spacingAndGlyphs" >6 Volt 230 Amp Hr.</text>
<text transform="translate(897.0,808.5) skewY(-17.74) scale(1.0,1)" font-size="7.5" font-weight="normal" font-style="italic" fill="#f4f4f4" textLength="93.0" lengthAdjust="spacingAndGlyphs" >Sealed Lead-Acid Battery</text>
<text transform="translate(907.0,936.5) skewY(-21.06) scale(1.0,1)" font-size="6.5" font-weight="bold" font-style="italic" fill="#f4f4f4" textLength="56.0" lengthAdjust="spacingAndGlyphs" >Must Be Recycled</text>
<text transform="translate(907.0,946.0) skewY(-21.06) scale(1.0,1)" font-size="6.5" font-weight="bold" font-style="italic" fill="#f4f4f4" textLength="75.0" lengthAdjust="spacingAndGlyphs" >Or Disposed Of Properly</text>
<text transform="translate(1002.0,909.5) skewY(-20.56) scale(1.0,1)" font-size="6.2" font-weight="bold" font-style="italic" fill="#f4f4f4" textLength="51.0" lengthAdjust="spacingAndGlyphs" >NON-SPILLABLE</text>
<text transform="translate(895.5,990.5) skewY(-21.06)" font-weight="bold" fill="#f4f4f4" font-size="9.3" letter-spacing="0.9" style="font-variant:small-caps" textLength="154" lengthAdjust="spacingAndGlyphs">www.MightyMaxBattery.com</text>
</g>
<text x="1024" y="694.5" font-size="19" font-weight="bold" fill="#f4f4f4" text-anchor="middle">®</text>
</g>
<defs>
<linearGradient id="gIcoBody" x1="0" y1="0" x2="1" y2="0"><stop offset="0" stop-color="#8e8e8e"/><stop offset="0.18" stop-color="#e6e6e6"/><stop offset="0.5" stop-color="#bdbdbd"/><stop offset="0.85" stop-color="#dcdcdc"/><stop offset="1" stop-color="#8a8a8a"/></linearGradient>
<linearGradient id="gIcoBlue" x1="0" y1="0" x2="1" y2="0"><stop offset="0" stop-color="#1d7fb4"/><stop offset="0.45" stop-color="#5fc4ea"/><stop offset="1" stop-color="#1a78ad"/></linearGradient>
<linearGradient id="gLogoGray" x1="0" y1="0" x2="0" y2="1"><stop offset="0" stop-color="#b9b9b9"/><stop offset="0.5" stop-color="#8b8b8b"/><stop offset="1" stop-color="#a9a9a9"/></linearGradient>
</defs>
<g id="footerlogo">
<rect x="1266" y="1412" width="23" height="5" rx="2" fill="#b5b5b5"/>
<rect x="1257" y="1415" width="42" height="54" rx="6" fill="url(#gIcoBody)" stroke="#9a9a9a" stroke-width="0.8"/>
<rect x="1263.5" y="1422.5" width="28" height="40" rx="3.5" fill="url(#gIcoBlue)"/>
<line x1="1263.5" y1="1435.5" x2="1291.5" y2="1435.5" stroke="#2b7fae" stroke-width="0.9"/><line x1="1263.5" y1="1450" x2="1291.5" y2="1450" stroke="#2b7fae" stroke-width="0.9"/>
<text x="1307" y="1436.8" font-size="13.6" fill="url(#gLogoGray)" stroke="#8f8f8f" stroke-width="0.5" textLength="90" lengthAdjust="spacingAndGlyphs">MIGHTY</text>
<text x="1398" y="1436.8" font-size="13.6" fill="#3d8db3" stroke="#3d8db3" stroke-width="0.4" textLength="52" lengthAdjust="spacingAndGlyphs">MAX</text>
<text x="1307" y="1454.2" font-size="16.6" fill="url(#gLogoGray)" stroke="#8f8f8f" stroke-width="0.5" textLength="143" lengthAdjust="spacingAndGlyphs">BATTERY</text>
</g>
</svg>
</body></html>
